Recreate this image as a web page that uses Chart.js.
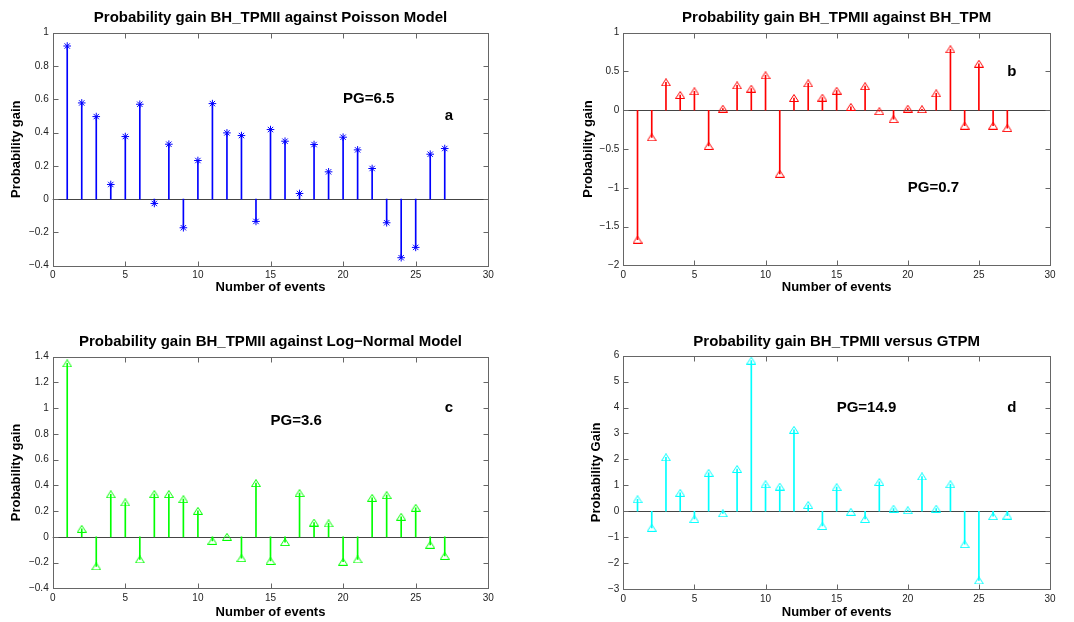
<!DOCTYPE html>
<html>
<head>
<meta charset="utf-8">
<title>Probability gain BH_TPMII</title>
<script src="https://cdn.jsdelivr.net/npm/chart.js@4"></script>
<style>
  html, body { margin: 0; padding: 0; background: #fff; }
  #wrap { position: relative; width: 1074px; height: 622px; overflow: hidden; }
  #wrap canvas { position: absolute; }
</style>
</head>
<body>
<div id="wrap">
  <canvas id="chart_a"></canvas>
  <canvas id="chart_b"></canvas>
  <canvas id="chart_c"></canvas>
  <canvas id="chart_d"></canvas>
</div>
<script>
// event numbers on the x axis
const events = [1, 2, 3, 4, 5, 6, 7, 8, 9, 10, 11, 12, 13, 14, 15, 16, 17, 18, 19, 20, 21, 22, 23, 24, 25, 26, 27];

// probability gain of BH_TPMII against each reference model
const gainPoisson = [0.92, 0.578, 0.496, 0.088, 0.376, 0.57, -0.026, 0.33, -0.172, 0.232, 0.574, 0.398, 0.382, -0.134, 0.418, 0.348, 0.034, 0.328, 0.164, 0.372, 0.296, 0.184, -0.142, -0.352, -0.29, 0.27, 0.304];
const gainBhTpm = [-1.67, -0.35, 0.36, 0.197, 0.244, -0.46, 0.02, 0.32, 0.278, 0.45, -0.82, 0.158, 0.346, 0.162, 0.252, 0.043, 0.31, -0.013, -0.115, 0.02, 0.013, 0.218, 0.786, -0.2, 0.6, -0.2, -0.23];
const gainLogNormal = [1.348, 0.062, -0.23, 0.33, 0.267, -0.176, 0.332, 0.332, 0.293, 0.202, -0.031, 0.0, -0.166, 0.417, -0.187, -0.041, 0.34, 0.111, 0.104, -0.194, -0.176, 0.303, 0.324, 0.156, 0.226, -0.062, -0.148];
const gainGtpm = [0.46, -0.64, 2.08, 0.71, -0.3, 1.48, -0.08, 1.63, 5.81, 1.04, 0.95, 3.14, 0.24, -0.57, 0.93, -0.02, -0.3, 1.13, 0.1, 0.04, 1.34, 0.1, 1.04, -1.27, -2.67, -0.19, -0.17];

// tick values
const xTicks = [0, 5, 10, 15, 20, 25, 30];
const yTicksA = [-0.4, -0.2, 0, 0.2, 0.4, 0.6, 0.8, 1];
const yTicksB = [-2, -1.5, -1, -0.5, 0, 0.5, 1];
const yTicksC = [-0.4, -0.2, 0, 0.2, 0.4, 0.6, 0.8, 1, 1.2, 1.4];
const yTicksD = [-3, -2, -1, 0, 1, 2, 3, 4, 5, 6];

// texts
const titles = [
    "Probability gain BH_TPMII against Poisson Model",
    "Probability gain BH_TPMII against BH_TPM",
    "Probability gain BH_TPMII against Log\u2212Normal Model",
    "Probability gain BH_TPMII versus GTPM"
];
const yLabels = ["Probability gain", "Probability gain", "Probability gain", "Probability Gain"];
const xLabel = "Number of events";

// text notes, placed in data units like matlab's text(x, y, str)
const notesA = [{ x: 20, y: 0.6, text: "PG=6.5" }, { x: 27, y: 0.5, text: "a" }];
const notesB = [{ x: 20, y: -1, text: "PG=0.7" }, { x: 27, y: 0.5, text: "b" }];
const notesC = [{ x: 15, y: 0.9, text: "PG=3.6" }, { x: 27, y: 1, text: "c" }];
const notesD = [{ x: 15, y: 4, text: "PG=14.9" }, { x: 27, y: 4, text: "d" }];

const FONT = '"Liberation Sans", Arial, Helvetica, sans-serif';

// matlab's '^' marker: open triangle, a bit wider than tall
function triangleMarker(color) {
    const c = document.createElement("canvas");
    c.width = 10;
    c.height = 8;
    const g = c.getContext("2d");
    g.strokeStyle = color;
    g.lineWidth = 1;
    g.beginPath();
    g.moveTo(5, 0.5);
    g.lineTo(0.5, 7.5);
    g.lineTo(9.5, 7.5);
    g.closePath();
    g.stroke();
    return c;
}

const matlabAxes = {
    id: "matlabAxes",
    beforeDatasetsDraw(chart) {
        const { ctx, chartArea: a, scales: { y } } = chart;
        const y0 = Math.round(y.getPixelForValue(0)) + 0.5;
        ctx.save();
        ctx.strokeStyle = "#444";
        ctx.lineWidth = 1;
        ctx.beginPath();
        ctx.moveTo(a.left, y0);
        ctx.lineTo(a.right, y0);
        ctx.stroke();
        ctx.restore();
    },
    afterDraw(chart, args, opts) {
        const { ctx, chartArea: a, scales: { x, y } } = chart;
        const l = Math.round(a.left) + 0.5, r = Math.round(a.right) + 0.5;
        const t = Math.round(a.top) + 0.5, b = Math.round(a.bottom) + 0.5;
        ctx.save();
        ctx.strokeStyle = "#666";
        ctx.lineWidth = 1;
        ctx.strokeRect(l, t, r - l, b - t);
        ctx.beginPath();
        x.ticks.forEach(tk => {
            const px = Math.round(x.getPixelForValue(tk.value)) + 0.5;
            ctx.moveTo(px, b); ctx.lineTo(px, b - 5);
            ctx.moveTo(px, t); ctx.lineTo(px, t + 5);
        });
        y.ticks.forEach(tk => {
            const py = Math.round(y.getPixelForValue(tk.value)) + 0.5;
            ctx.moveTo(l, py); ctx.lineTo(l + 5, py);
            ctx.moveTo(r, py); ctx.lineTo(r - 5, py);
        });
        ctx.stroke();

        ctx.fillStyle = "#000";
        ctx.font = "bold 15px " + FONT;
        ctx.textAlign = "left";
        ctx.textBaseline = "middle";
        (opts.notes || []).forEach(n => {
            ctx.fillText(n.text, x.getPixelForValue(n.x), y.getPixelForValue(n.y));
        });
        ctx.restore();
    }
};

function tickText(v) {
    return v < 0 ? "\u2212" + String(-v) : String(v);
}

function stemChart(id, values, yTicks, color, marker, title, yLabel, notes, box, area, titleY, yTitleX, xTitleY) {
    const canvas = document.getElementById(id);
    canvas.width = box.w;
    canvas.height = box.h;
    canvas.style.left = box.x + "px";
    canvas.style.top = box.y + "px";

    const titleSize = 15, axisSize = 13;
    const points = events.map((e, i) => ({ x: e, y: values[i] }));

    return new Chart(canvas, {
        type: "scatter",
        data: {
            datasets: [
                {
                    type: "scatter",
                    data: points,
                    pointStyle: marker === "star" ? "star" : triangleMarker(color),
                    radius: 3.8,
                    borderColor: color,
                    backgroundColor: "rgba(0,0,0,0)",
                    borderWidth: 1,
                    order: 0
                },
                {
                    type: "bar",
                    data: points,
                    backgroundColor: color,
                    borderWidth: 0,
                    barThickness: 1,
                    order: 1
                }
            ]
        },
        options: {
            responsive: false,
            animation: false,
            layout: {
                padding: { left: 0, top: 0, bottom: 0, right: box.x + box.w - area.r }
            },
            plugins: {
                legend: { display: false },
                tooltip: { enabled: false },
                title: {
                    display: true,
                    text: title,
                    fullSize: false,
                    color: "#000",
                    font: { family: FONT, size: titleSize, weight: "bold", lineHeight: 1.2 },
                    padding: {
                        top: titleY - box.y - titleSize * 0.6,
                        bottom: area.t - titleY - titleSize * 0.6
                    }
                },
                matlabAxes: { notes: notes }
            },
            scales: {
                x: {
                    type: "linear",
                    min: xTicks[0],
                    max: xTicks[xTicks.length - 1],
                    offset: false,
                    afterBuildTicks: s => { s.ticks = xTicks.map(v => ({ value: v })); },
                    afterFit: s => { s.height = box.y + box.h - area.b; },
                    grid: { display: false, drawTicks: false },
                    border: { display: false },
                    ticks: {
                        color: "#222",
                        padding: 4,
                        maxRotation: 0,
                        font: { family: FONT, size: 10 },
                        callback: v => tickText(v)
                    },
                    title: {
                        display: true,
                        text: xLabel,
                        color: "#000",
                        font: { family: FONT, size: axisSize, weight: "bold", lineHeight: 1.2 },
                        padding: { top: 0, bottom: box.y + box.h - xTitleY - axisSize * 0.6 }
                    }
                },
                y: {
                    type: "linear",
                    min: yTicks[0],
                    max: yTicks[yTicks.length - 1],
                    afterBuildTicks: s => { s.ticks = yTicks.map(v => ({ value: v })); },
                    afterFit: s => { s.width = area.l - box.x; },
                    grid: { display: false, drawTicks: false },
                    border: { display: false },
                    ticks: {
                        color: "#222",
                        padding: 4,
                        font: { family: FONT, size: 10 },
                        callback: v => tickText(v)
                    },
                    title: {
                        display: true,
                        text: yLabel,
                        color: "#000",
                        font: { family: FONT, size: axisSize, weight: "bold", lineHeight: 1.2 },
                        padding: { top: yTitleX - box.x - axisSize * 0.6, bottom: 0 }
                    }
                }
            }
        },
        plugins: [matlabAxes]
    });
}

stemChart("chart_a", gainPoisson, yTicksA, "#0000ff", "star", titles[0], yLabels[0], notesA,
    { x: 0, y: 0, w: 537, h: 311 }, { l: 52.7, r: 488.3, t: 32.7, b: 265.7 }, 18, 16.7, 287);
stemChart("chart_b", gainBhTpm, yTicksB, "#ff0000", "triangle", titles[1], yLabels[1], notesB,
    { x: 537, y: 0, w: 537, h: 311 }, { l: 623.3, r: 1050, t: 32.7, b: 265.3 }, 18, 588.3, 287);
stemChart("chart_c", gainLogNormal, yTicksC, "#00ff00", "triangle", titles[2], yLabels[2], notesC,
    { x: 0, y: 311, w: 537, h: 311 }, { l: 52.7, r: 488.3, t: 356.7, b: 588.3 }, 342, 16.7, 612);
stemChart("chart_d", gainGtpm, yTicksD, "#00ffff", "triangle", titles[3], yLabels[3], notesD,
    { x: 537, y: 311, w: 537, h: 311 }, { l: 623.3, r: 1050, t: 355.7, b: 589 }, 342, 596.7, 612);
</script>
</body>
</html>
